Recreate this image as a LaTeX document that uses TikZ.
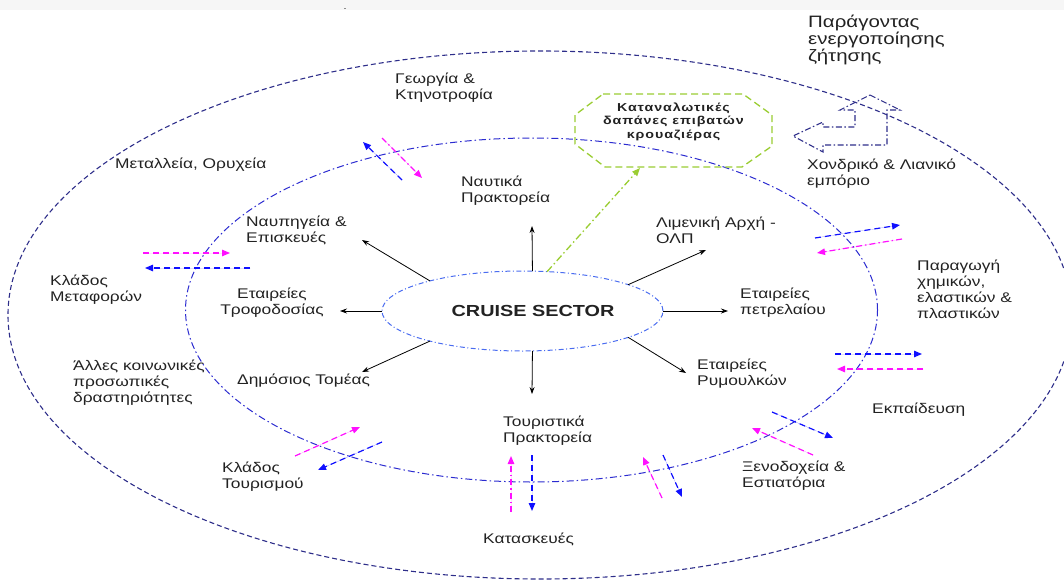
\documentclass[tikz,border=0pt]{standalone}
\usepackage{fontspec}
\setmainfont[FakeStretch=1.24]{Liberation Sans}
\newfontfamily\octfont[FakeStretch=1.24,LetterSpace=8]{Liberation Sans}
\usetikzlibrary{arrows.meta,shapes.geometric}

\definecolor{navy}{HTML}{2E2E8A}
\definecolor{ringblue}{HTML}{2B2BD0}
\definecolor{coreblue}{HTML}{4A6CF0}
\definecolor{pblue}{HTML}{1010FF}
\definecolor{pmag}{HTML}{FF10FF}
\definecolor{lime}{HTML}{9ACD32}
\definecolor{txt}{HTML}{222222}
\definecolor{band}{HTML}{F6F6F6}

\begin{document}
\begin{tikzpicture}[x=1pt,y=-1pt,
  lbl/.style={anchor=west,align=left,inner sep=0pt,text=txt,font=\fontsize{14}{16}\selectfont},
  spoke/.style={draw=black,line width=0.8pt,-{Stealth[length=7pt,width=5pt]}},
  tri/.style={-{Triangle[length=8pt,width=6.5pt]}},
  bdash/.style={tri,draw=pblue,fill=pblue,line width=1.2pt,dash pattern=on 6pt off 4pt},
  mdash/.style={tri,draw=pmag,fill=pmag,line width=1.2pt,dash pattern=on 6pt off 4pt},
  mdot/.style={tri,draw=pmag,fill=pmag,line width=1.2pt,dash pattern=on 6pt off 3pt on 1.5pt off 3pt},
]
\useasboundingbox (0,0) rectangle (1064,583);
\fill[band] (0,0) rectangle (1064,10);
\node[inner sep=0pt,font=\fontsize{6}{6}\selectfont] (mark) at (345,10) {-};

% rings
\draw[navy,line width=1.1pt,dash pattern=on 5pt off 3pt] (540,315) ellipse [x radius=532pt,y radius=264pt];
\draw[ringblue,line width=1pt,dash pattern=on 7pt off 3pt on 1.5pt off 3pt] (531.5,310) ellipse [x radius=346pt,y radius=172pt];

% core
\node[ellipse,draw=coreblue,line width=1pt,dash pattern=on 5pt off 2.5pt on 1pt off 2.5pt,
      minimum width=281pt,minimum height=80pt,inner sep=0pt,outer sep=0pt] (cs) at (522.5,311) {};
\node[inner sep=0pt,font=\bfseries\fontsize{16}{18}\selectfont,text=txt] (cslbl) at (533,311) {CRUISE SECTOR};

% inner ring labels
\node[lbl] (naut) at (461,191) {Ναυτικά\\Πρακτορεία};
\node[lbl] (ship) at (246,230) {Ναυπηγεία \&\\Επισκευές};
\node[lbl] (port) at (656,230) {Λιμενική Αρχή -\\ΟΛΠ};
\node[lbl,anchor=center,align=center] (supp) at (272,303) {Εταιρείες\\Τροφοδοσίας};
\node[lbl] (oil) at (740,303) {Εταιρείες\\πετρελαίου};
\node[lbl] (pub) at (237,381) {Δημόσιος Τομέας};
\node[lbl] (tug) at (697,374) {Εταιρείες\\Ρυμουλκών};
\node[lbl] (tour) at (503,431) {Τουριστικά\\Πρακτορεία};

% outer ring labels
\node[lbl] (agri) at (395,88) {Γεωργία \&\\Κτηνοτροφία};
\node[lbl] (mine) at (115,165) {Μεταλλεία, Ορυχεία};
\node[lbl] (trans) at (50,290) {Κλάδος\\Μεταφορών};
\node[lbl] (soc) at (73,383) {Άλλες κοινωνικές\\προσωπικές\\δραστηριότητες};
\node[lbl] (tsec) at (222,477) {Κλάδος\\Τουρισμού};
\node[lbl] (cons) at (483,539) {Κατασκευές};
\node[lbl] (hotel) at (742,476) {Ξενοδοχεία \&\\Εστιατόρια};
\node[lbl] (edu) at (872,410) {Εκπαίδευση};
\node[lbl] (chem) at (917,289) {Παραγωγή\\χημικών,\\ελαστικών \&\\πλαστικών};
\node[lbl] (trade) at (807,174) {Χονδρικό \& Λιανικό\\εμπόριο};
\node[lbl,font=\fontsize{16.5}{17}\selectfont] (title) at (808,40) {Παράγοντας\\ενεργοποίησης\\ζήτησης};

% passenger spending box
\draw[lime,line width=1.3pt,dash pattern=on 7pt off 4pt,line join=round]
  (603,94) -- (743,94) -- (772,115) -- (772,146) -- (742,167) -- (605,167) -- (575,144) -- (575,115) -- cycle;
\node[minimum width=197pt,minimum height=73pt,inner sep=0pt,outer sep=0pt,align=center,text=txt,
      font=\octfont\bfseries\fontsize{11.5}{13.5}\selectfont] (oct) at (673.5,121.5)
      {Καταναλωτικές\\δαπάνες επιβατών\\κρουαζιέρας};
\coordinate (octB) at (640,168);
\draw[lime,line width=1.3pt,dash pattern=on 7pt off 3pt on 1.5pt off 3pt,
      -{Triangle[length=8pt,width=6.5pt]}] (cs.58) -- (octB);

% spokes from the core
\coordinate (tU) at (532,226);
\coordinate (tUL) at (362,240);
\coordinate (tL) at (340,311);
\coordinate (tLL) at (362,372);
\coordinate (tD) at (532,394);
\coordinate (tLR) at (686,373);
\coordinate (tR) at (728,311);
\coordinate (tUR) at (706,250);
\draw[spoke] (cs.76) -- (tU);
\draw[spoke] (cs.162) -- (tUL);
\draw[spoke] (cs.180) -- (tL);
\draw[spoke] (cs.198) -- (tLL);
\draw[spoke] (cs.284) -- (tD);
\draw[spoke] (cs.346) -- (tLR);
\draw[spoke] (cs.0) -- (tR);
\draw[spoke] (cs.14) -- (tUR);

% demand-trigger symbol
\draw[navy,line width=1.1pt,dash pattern=on 6pt off 2.5pt on 1.5pt off 2.5pt,line join=miter]
  (870,95) -- (900,110) -- (887,110) -- (887,145) -- (823,145) -- (823,152) -- (793,136)
  -- (823,122) -- (823,127) -- (855,127) -- (855,110) -- (840,110) -- cycle;

% exchange arrows across the ring
\coordinate (a1) at (402,180); \coordinate (a2) at (363,142);
\coordinate (a3) at (382,138); \coordinate (a4) at (422,178);
\draw[bdash] (a1) -- (a2);
\draw[mdot] (a3) -- (a4);

\coordinate (b1) at (143,253); \coordinate (b2) at (230,253);
\coordinate (b3) at (250,268); \coordinate (b4) at (145,268);
\draw[mdash] (b1) -- (b2);
\draw[bdash] (b3) -- (b4);

\coordinate (c1) at (295,456); \coordinate (c2) at (360,427);
\coordinate (c3) at (382,442); \coordinate (c4) at (318,470);
\draw[mdash] (c1) -- (c2);
\draw[bdash] (c3) -- (c4);

\coordinate (d1) at (511,512); \coordinate (d2) at (511,456);
\coordinate (d3) at (532,455); \coordinate (d4) at (532,511);
\draw[mdot] (d1) -- (d2);
\draw[bdash] (d3) -- (d4);

\coordinate (e1) at (662,498); \coordinate (e2) at (643,457);
\coordinate (e3) at (663,455); \coordinate (e4) at (682,497);
\draw[mdash] (e1) -- (e2);
\draw[bdash] (e3) -- (e4);

\coordinate (f1) at (813,455); \coordinate (f2) at (752,428);
\coordinate (f3) at (772,412); \coordinate (f4) at (833,438);
\draw[mdash] (f1) -- (f2);
\draw[bdash] (f3) -- (f4);

\coordinate (g1) at (835,354); \coordinate (g2) at (922,354);
\coordinate (g3) at (923,369); \coordinate (g4) at (837,369);
\draw[bdash] (g1) -- (g2);
\draw[mdash] (g3) -- (g4);

\coordinate (h1) at (815,238); \coordinate (h2) at (900,225);
\coordinate (h3) at (902,239); \coordinate (h4) at (817,253);
\draw[bdash] (h1) -- (h2);
\draw[mdot] (h3) -- (h4);
\end{tikzpicture}
\end{document}
